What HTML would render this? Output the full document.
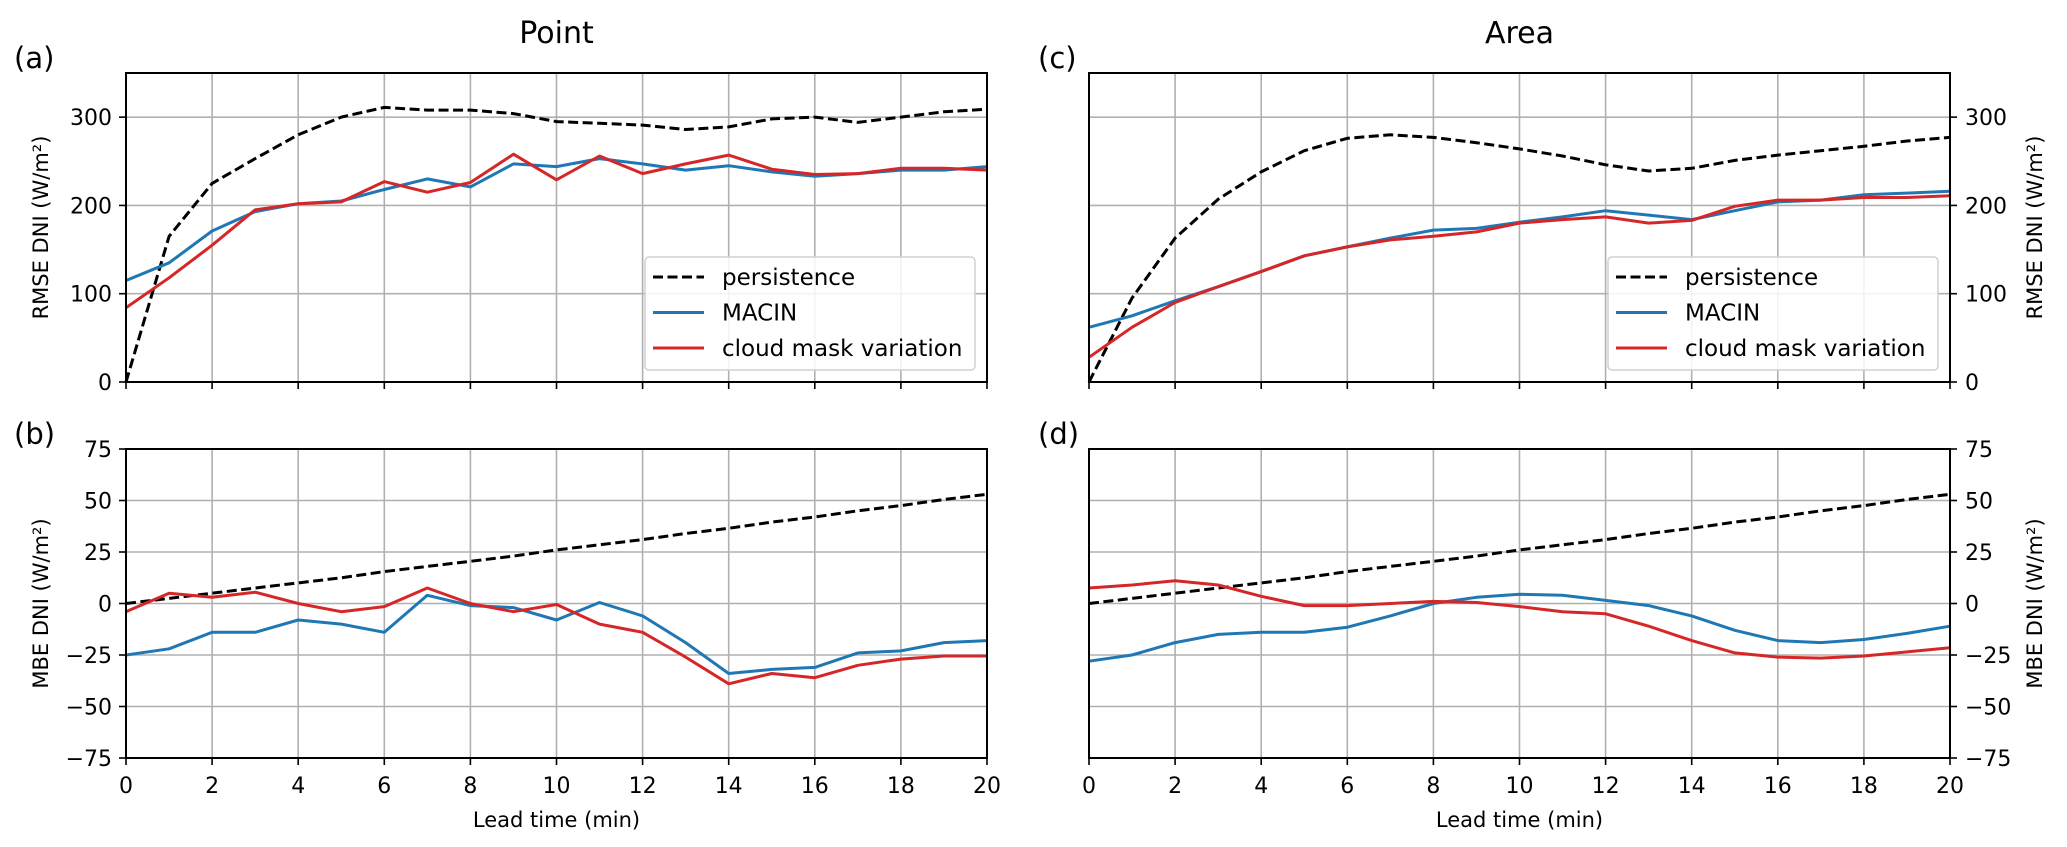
<!DOCTYPE html>
<html><head><meta charset="utf-8"><style>
body{margin:0;background:#fff;}
svg{display:block;font-family:"DejaVu Sans","Liberation Sans",sans-serif;}
</style></head><body>
<svg id="fig" width="2067" height="847" viewBox="0 0 2067 847"></svg>
<script>
const xs=[0,1,2,3,4,5,6,7,8,9,10,11,12,13,14,15,16,17,18,19,20];
const xTicks=[0,2,4,6,8,10,12,14,16,18,20];
const rmseTicks=[0,100,200,300];
const mbeTicks=[-75,-50,-25,0,25,50,75];
const pointRmsePersist=[0,165,225,253,280,300,311,308,308,304,295,293,291,286,289,298,300,294,300,306,309];
const pointRmseMacin=[115,135,171,193,202,205,218,230,221,247,244,253,247,240,245,238,233,236,240,240,244];
const pointRmseCloud=[84,118,155,195,202,204,227,215,226,258,229,256,236,247,257,241,235,236,242,242,240];
const pointMbePersist=[0,2.5,5,7.5,10,12.5,15.5,18,20.5,23,26,28.5,31,34,36.5,39.5,42,45,47.5,50.5,53];
const pointMbeMacin=[-25,-22,-14,-14,-8,-10,-14,4,-1,-2,-8,0.5,-6,-19,-34,-32,-31,-24,-23,-19,-18];
const pointMbeCloud=[-4,5,3,5.5,0,-4,-1.5,7.5,0,-4,-0.5,-10,-14,-26,-39,-34,-36,-30,-27,-25.5,-25.5];
const areaRmsePersist=[0,95,163,207,238,262,276,280,277,271,264,256,246,239,242,251,257,262,267,273,277];
const areaRmseMacin=[62,75,92,108,125,143,153,163,172,174,181,187,194,189,184,194,204,206,212,214,216];
const areaRmseCloud=[28,62,90,108,125,143,153,161,165,170,180,184,187,180,183,199,206,206,209,209,211];
const areaMbePersist=[0,2.5,5,7.5,10,12.5,15.5,18,20.5,23,26,28.5,31,34,36.5,39.5,42,45,47.5,50.5,53];
const areaMbeMacin=[-28,-25,-19,-15,-14,-14,-11.5,-6,0,3,4.5,4,1.5,-1,-6,-13,-18,-19,-17.5,-14.5,-11];
const areaMbeCloud=[7.5,9,11,9,3.5,-1,-1,0,1,0.5,-1.5,-4,-5,-11,-18,-24,-26,-26.5,-25.5,-23.5,-21.5];

const NS="http://www.w3.org/2000/svg";
const svg=document.getElementById('fig');
function mk(tag,attrs,parent,text){const e=document.createElementNS(NS,tag);for(const k in attrs)e.setAttribute(k,attrs[k]);if(text!==undefined)e.textContent=text;(parent||svg).appendChild(e);return e;}
const BLUE='#1f77b4',RED='#d62728';

function panel(o){
  const g=mk('g',{});
  
  
  const X=v=>o.x0+(v-0)/20*(o.x1-o.x0);
  const Y=v=>o.yb-(v-o.ymin)/(o.ymax-o.ymin)*(o.yb-o.yt);
  xTicks.forEach(t=>{const l=mk('line',{x1:X(t),x2:X(t),y1:o.yt,y2:o.yb,stroke:'#b0b0b0','stroke-width':1.6},g);
    });
  o.yticks.forEach(t=>{const l=mk('line',{x1:o.x0,x2:o.x1,y1:Y(t),y2:Y(t),stroke:'#b0b0b0','stroke-width':1.6},g);
    });
  const series=[[o.persist,'#000','10,4.5','persistence-line'],[o.macin,BLUE,null,'macin-line'],[o.cloud,RED,null,'cloud-mask-variation-line']];
  series.forEach(s=>{const pts=xs.map((x,i)=>X(x).toFixed(1)+','+Y(s[0][i]).toFixed(1)).join(' ');
    const a={points:pts,fill:'none',stroke:s[1],'stroke-width':3,'stroke-linejoin':'round'};if(s[2])a['stroke-dasharray']=s[2];
    const p=mk('polyline',a,g);});
  const fr=mk('rect',{x:o.x0,y:o.yt,width:o.x1-o.x0,height:o.yb-o.yt,fill:'none',stroke:'#000','stroke-width':2},g);
  
  xTicks.forEach(t=>{mk('line',{x1:X(t),x2:X(t),y1:o.yb,y2:o.yb+7,stroke:'#000','stroke-width':1.6},g);
    if(o.xlabels){const tx=mk('text',{x:X(t),y:o.yb+35,'font-size':22,'text-anchor':'middle'},g,String(t));
      }});
  o.yticks.forEach(t=>{const right=o.right;const xx=right?o.x1:o.x0;
    mk('line',{x1:xx,x2:right?xx+7:xx-7,y1:Y(t),y2:Y(t),stroke:'#000','stroke-width':1.6},g);
    const lab=t<0?'\u2212'+Math.abs(t):String(t);
    const tx=mk('text',{x:right?xx+15:xx-14,y:Y(t)+8,'font-size':22,'text-anchor':right?'start':'end'},g,lab);
    });
  const ylx=o.right?2042:48, yly=(o.yt+o.yb)/2;
  const yl=mk('text',{x:ylx,y:yly,'font-size':21,'text-anchor':'middle',transform:`rotate(-90 ${ylx} ${yly})`},g,o.ylabel);
  
  const pl=mk('text',{x:o.labx,y:o.yt-5,'font-size':29},g,o.letter);
  
  if(o.xlabels){const xl=mk('text',{x:(o.x0+o.x1)/2,y:827,'font-size':21,'text-anchor':'middle'},g,'Lead time (min)');
    }
  if(o.legend){const lg=mk('g',{},g);
    const lx=o.x1-342, ly=257;
    mk('rect',{x:lx,y:ly,width:330,height:113,rx:4,fill:'#fff','fill-opacity':0.85,stroke:'#d0d0d0','stroke-width':1.5},lg);
    const ents=[['persistence','#000','10,4.5'],['MACIN',BLUE,null],['cloud mask variation',RED,null]];
    ents.forEach((e,i)=>{const yy=ly+20+i*35.5;const eg=mk('g',{},lg);
      
      const a={x1:lx+8,x2:lx+59,y1:yy,y2:yy,stroke:e[1],'stroke-width':3};if(e[2])a['stroke-dasharray']=e[2];
      mk('line',a,eg);mk('text',{x:lx+77,y:yy+8,'font-size':23},eg,e[0]);});}
}
const L0=126,L1=987,R0=1089,R1=1950;
panel({name:'panel-a-point-rmse',x0:L0,x1:L1,yt:73,yb:382,ymin:0,ymax:350,yticks:rmseTicks,persist:pointRmsePersist,macin:pointRmseMacin,cloud:pointRmseCloud,ylabel:'RMSE DNI (W/m²)',letter:'(a)',labx:14,right:false,xlabels:false,legend:true});
panel({name:'panel-b-point-mbe',x0:L0,x1:L1,yt:449,yb:758,ymin:-75,ymax:75,yticks:mbeTicks,persist:pointMbePersist,macin:pointMbeMacin,cloud:pointMbeCloud,ylabel:'MBE DNI (W/m²)',letter:'(b)',labx:14,right:false,xlabels:true,legend:false});
panel({name:'panel-c-area-rmse',x0:R0,x1:R1,yt:73,yb:382,ymin:0,ymax:350,yticks:rmseTicks,persist:areaRmsePersist,macin:areaRmseMacin,cloud:areaRmseCloud,ylabel:'RMSE DNI (W/m²)',letter:'(c)',labx:1038,right:true,xlabels:false,legend:true});
panel({name:'panel-d-area-mbe',x0:R0,x1:R1,yt:449,yb:758,ymin:-75,ymax:75,yticks:mbeTicks,persist:areaMbePersist,macin:areaMbeMacin,cloud:areaMbeCloud,ylabel:'MBE DNI (W/m²)',letter:'(d)',labx:1038,right:true,xlabels:true,legend:false});
const t1=mk('text',{x:(L0+L1)/2,y:43,'font-size':30,'text-anchor':'middle'},svg,'Point');

const t2=mk('text',{x:(R0+R1)/2,y:43,'font-size':30,'text-anchor':'middle'},svg,'Area');

</script>
</body></html>
